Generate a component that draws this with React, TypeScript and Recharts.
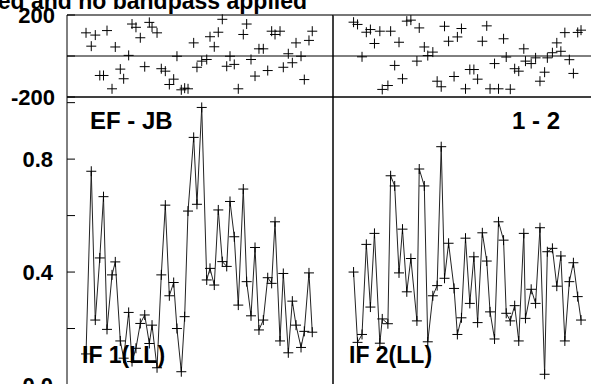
import React from "react";
import { ScatterChart, Scatter, LineChart, Line, XAxis, YAxis, ReferenceLine } from "recharts";

// time in hours from panel start, one entry per scan
const leftTimes = [0.232, 0.296, 0.345, 0.4, 0.445, 0.488, 0.549, 0.589, 0.65, 0.691, 0.752, 0.793, 0.841, 0.894, 0.948, 1.004, 1.037, 1.098, 1.15, 1.199, 1.248, 1.301, 1.341, 1.394, 1.435, 1.476, 1.545, 1.585, 1.643, 1.704, 1.744, 1.796, 1.845, 1.894, 1.948, 1.988, 2.04, 2.089, 2.15, 2.191, 2.244, 2.293, 2.341, 2.394, 2.448, 2.496, 2.537, 2.598, 2.638, 2.699, 2.748, 2.793, 2.854, 2.894, 2.951, 2.991];
const leftPhase = [113, 48, 102, -95, -95, 124, -160, 44, -64, -111, 3, 156, 140, 89, -52, 164, 141, 113, -62, -74, -139, -113, -1, -165, -157, -160, 64, -55, -25, -17, 94, 45, 116, 179, -50, -1, -41, -160, 105, 156, -17, -98, 35, 35, -71, 121, 105, 121, -55, 11, -33, 64, -1, -115, 76, 121];
const leftAmp = [0.11, 0.757, 0.23, 0.45, 0.667, 0.197, 0.39, 0.436, 0.156, 0.095, 0.257, 0.083, 0.13, 0.218, 0.248, 0.147, 0.212, 0.061, 0.39, 0.637, 0.316, 0.363, 0.2, 0.047, 0.242, 0.616, 0.877, 0.64, 0.983, 0.372, 0.413, 0.354, 0.62, 0.437, 0.42, 0.65, 0.525, 0.283, 0.694, 0.366, 0.245, 0.487, 0.195, 0.23, 0.38, 0.36, 0.578, 0.156, 0.395, 0.114, 0.297, 0.212, 0.133, 0.19, 0.397, 0.187];

const rightTimes = [0.248, 0.296, 0.35, 0.402, 0.451, 0.5, 0.565, 0.594, 0.662, 0.695, 0.744, 0.796, 0.838, 0.89, 0.939, 1.012, 1.04, 1.101, 1.143, 1.204, 1.256, 1.305, 1.345, 1.394, 1.46, 1.5, 1.549, 1.598, 1.65, 1.699, 1.744, 1.801, 1.854, 1.894, 1.948, 1.996, 2.057, 2.089, 2.138, 2.191, 2.24, 2.301, 2.321, 2.39, 2.443, 2.496, 2.552, 2.585, 2.646, 2.699, 2.748, 2.796, 2.85, 2.899, 2.951, 2.991];
const rightPhase = [165, 154, -4, 116, 129, 61, 121, -163, -144, 121, -46, 67, -111, 170, 175, -25, 137, 44, 2, 19, -123, -150, 145, 72, -100, 93, 134, -160, -66, -66, -113, 72, 147, -160, -37, -160, 84, -5, -162, -62, -74, 35, -25, -37, -9, -123, -79, -9, 16, 64, 23, 114, -18, -85, 115, 126];
const rightAmp = [0.4, 0.151, 0.179, 0.498, 0.276, 0.537, 0.148, 0.234, 0.217, 0.741, 0.705, 0.397, 0.552, 0.33, 0.448, 0.227, 0.765, 0.705, 0.153, 0.316, 0.352, 0.844, 0.378, 0.502, 0.342, 0.179, 0.238, 0.52, 0.289, 0.454, 0.221, 0.539, 0.439, 0.259, 0.163, 0.578, 0.513, 0.254, 0.227, 0.281, 0.156, 0.537, 0.236, 0.339, 0.289, 0.557, 0.038, 0.472, 0.484, 0.35, 0.457, 0.156, 0.366, 0.433, 0.313, 0.23];

const xTicks = [1, 2, 3];
const phaseTicks = [-200, 0, 200];
const ampTicks = [0, 0.2, 0.4, 0.6, 0.8, 1.0];
const X_MAX = 3.244;

const FONT = '"Liberation Sans", Arial, sans-serif';
const tickStyle = { fontSize: 22, fontWeight: 700, fill: "#000", fontFamily: FONT };

function plus(props: any) {
  const { cx, cy } = props;
  if (cx == null || cy == null) return <g key={props.index} />;
  return (
    <path
      key={props.index}
      d={`M${cx - 5},${cy}h10M${cx},${cy - 5}v10`}
      stroke="#000"
      strokeWidth={1}
      fill="none"
    />
  );
}

// axes need a non-zero size to be drawn, so each takes 1px of the margin
function PhasePanel({ times, phase, left, width, marginLeft, labels }: any) {
  const data = times.map((t: number, i: number) => ({ t, phase: phase[i] }));
  return (
    <div style={{ position: "absolute", left, top: 0 }}>
      <ScatterChart width={width} height={112} margin={{ top: 14, right: 0, bottom: 14, left: marginLeft - 1 }}>
        <XAxis xAxisId="b" type="number" dataKey="t" domain={[0, X_MAX]} ticks={xTicks} interval={0}
          orientation="bottom" height={1} tickSize={-4} tick={false} stroke="#000" allowDataOverflow />
        <XAxis xAxisId="t" type="number" dataKey="t" domain={[0, X_MAX]} ticks={xTicks} interval={0}
          orientation="top" height={1} tickSize={-6} tick={false} stroke="#000"
          axisLine={{ stroke: "#777", strokeWidth: 2 }} allowDataOverflow />
        <YAxis yAxisId="l" type="number" dataKey="phase" domain={[-200, 200]} ticks={phaseTicks} interval={0}
          width={1} tickSize={-8} tickMargin={20} stroke="#000"
          tick={labels ? tickStyle : false} tickFormatter={(v: number) => (v === 0 ? "" : String(v))} />
        <YAxis yAxisId="r" orientation="right" type="number" domain={[-200, 200]} ticks={phaseTicks} interval={0}
          width={1} tickSize={-8} tick={false} stroke="#000" />
        <ReferenceLine xAxisId="b" yAxisId="l" y={0} stroke="#000" strokeWidth={1} />
        <Scatter xAxisId="b" yAxisId="l" data={data} shape={plus} isAnimationActive={false} />
      </ScatterChart>
    </div>
  );
}

function AmpPanel({ times, amp, left, width, marginLeft, labels }: any) {
  const data = times.map((t: number, i: number) => ({ t, amp: amp[i] }));
  return (
    <div style={{ position: "absolute", left, top: 96 }}>
      <LineChart width={width} height={290} data={data} margin={{ top: 0, right: 0, bottom: 0, left: marginLeft - 1 }}>
        <XAxis xAxisId="b" type="number" dataKey="t" domain={[0, X_MAX]} ticks={xTicks} interval={0}
          orientation="bottom" height={1} tickSize={-7} tick={false} stroke="#000" allowDataOverflow />
        <XAxis xAxisId="t" type="number" dataKey="t" domain={[0, X_MAX]} ticks={xTicks} interval={0}
          orientation="top" height={1} tickSize={-6} tick={false} stroke="#000" allowDataOverflow />
        <YAxis yAxisId="l" type="number" domain={[0, 1.02]} ticks={ampTicks} interval={0}
          width={1} tickSize={-8} tickMargin={22} stroke="#000"
          tick={labels ? tickStyle : false}
          tickFormatter={(v: number) => (Math.round(v * 10) % 4 === 0 ? v.toFixed(1) : "")} />
        <YAxis yAxisId="r" orientation="right" type="number" domain={[0, 1.02]} ticks={ampTicks} interval={0}
          width={1} tickSize={-8} tick={false} stroke="#000" />
        <Line xAxisId="b" yAxisId="l" dataKey="amp" stroke="#222" strokeWidth={1}
          dot={plus} activeDot={false} isAnimationActive={false} />
      </LineChart>
    </div>
  );
}

export default function App() {
  const label = { fontFamily: FONT, fontWeight: 700, fill: "#000" } as const;
  return (
    <div style={{ position: "fixed", left: 0, top: 0, width: 591, height: 384, overflow: "hidden", background: "#fff" }}>
      <PhasePanel times={leftTimes} phase={leftPhase} left={0} width={334} marginLeft={67} labels />
      <PhasePanel times={rightTimes} phase={rightPhase} left={330} width={273} marginLeft={3} labels={false} />
      <AmpPanel times={leftTimes} amp={leftAmp} left={0} width={334} marginLeft={67} labels />
      <AmpPanel times={rightTimes} amp={rightAmp} left={330} width={273} marginLeft={3} labels={false} />
      <svg width={591} height={384} style={{ position: "absolute", left: 0, top: 0, pointerEvents: "none" }}>
        <text x={307} y={9} textAnchor="end" fontSize={23} {...label}>ed and no bandpass applied</text>
        <text x={90} y={129} fontSize={24} {...label}>EF - JB</text>
        <text x={560} y={129} textAnchor="end" fontSize={24} {...label}>1 - 2</text>
        <text x={82} y={363} fontSize={23} {...label}>IF 1(LL)</text>
        <text x={349} y={363} fontSize={23} {...label}>IF 2(LL)</text>
      </svg>
    </div>
  );
}
